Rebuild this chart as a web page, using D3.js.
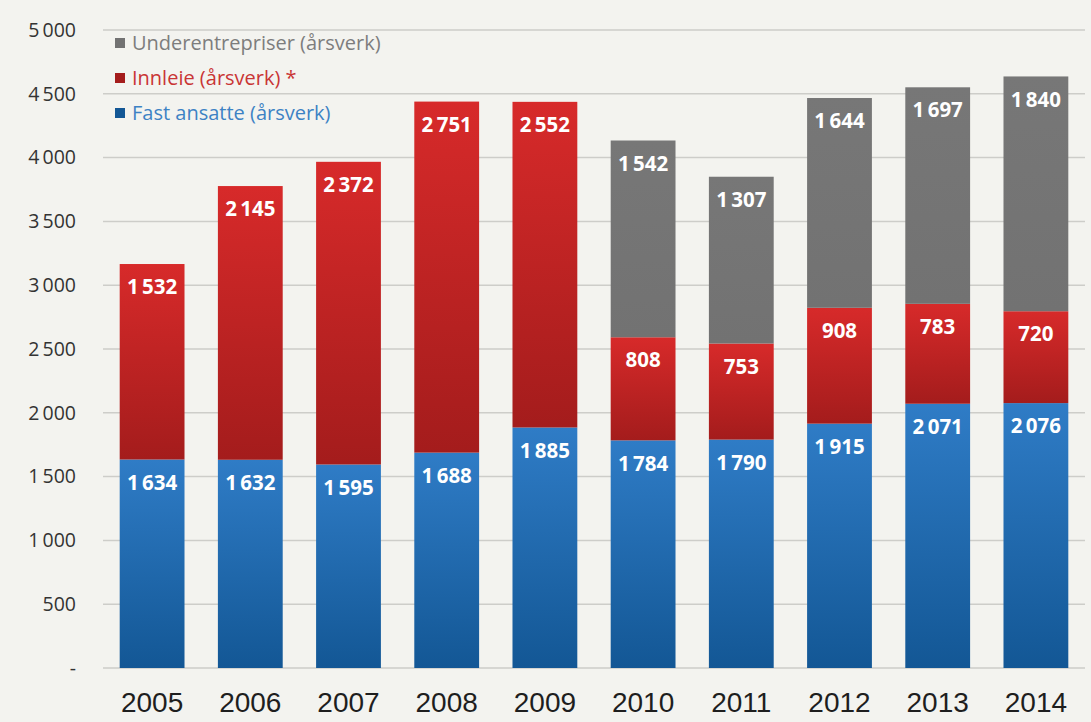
<!DOCTYPE html>
<html>
<head>
<meta charset="utf-8">
<script src="https://cdn.jsdelivr.net/npm/d3@7"></script>
<style>
  html, body { margin: 0; padding: 0; background: #f3f3ef; }
  svg { display: block; }
</style>
</head>
<body>
<div id="viz"></div>
<script>
// data
const years = ['2005', '2006', '2007', '2008', '2009', '2010', '2011', '2012', '2013', '2014'];
const fastAnsatte = [1634, 1632, 1595, 1688, 1885, 1784, 1790, 1915, 2071, 2076];
const innleie = [1532, 2145, 2372, 2751, 2552, 808, 753, 908, 783, 720];
const underentrepriser = [0, 0, 0, 0, 0, 1542, 1307, 1644, 1697, 1840];
const yTicks = [0, 500, 1000, 1500, 2000, 2500, 3000, 3500, 4000, 4500, 5000];
const seriesKeys = ['fast', 'innleie', 'under'];
const legendLabels = ['Underentrepriser (årsverk)', 'Innleie (årsverk) *', 'Fast ansatte (årsverk)'];
const legendKeys = ['under', 'innleie', 'fast'];

const width = 1091, height = 722;
const margin = { top: 30, right: 6, bottom: 54, left: 103 };

const colors = { // [top, bottom] of each gradient
  fast: ['#2f7cc6', '#135795'],
  innleie: ['#d72a2a', '#a41c1c'],
  under: ['#777777', '#727272']
};
const legendText = { under: '#7d7d7d', innleie: '#c93535', fast: '#3d82c4' };

const fmt = v => v === 0 ? '-' : d3.format(',')(v).replace(/,/g, '\u2009');

const table = years.map((y, i) => ({
  year: y, fast: fastAnsatte[i], innleie: innleie[i], under: underentrepriser[i]
}));

const x = d3.scaleBand()
  .domain(years)
  .range([margin.left, width - margin.right])
  .paddingInner(0.34)
  .paddingOuter(0.17);
const y = d3.scaleLinear()
  .domain([0, 5000])
  .range([height - margin.bottom, margin.top]);

const svg = d3.select('#viz').append('svg')
  .attr('width', width)
  .attr('height', height);

svg.append('rect').attr('width', width).attr('height', height).attr('fill', '#f3f3ef');

// gradients
const defs = svg.append('defs');
seriesKeys.forEach(k => {
  const g = defs.append('linearGradient')
    .attr('id', 'grad-' + k)
    .attr('x1', 0).attr('y1', 0).attr('x2', 0).attr('y2', 1);
  g.append('stop').attr('offset', '0%').attr('stop-color', colors[k][0]);
  g.append('stop').attr('offset', '100%').attr('stop-color', colors[k][1]);
});

// gridlines + y labels
svg.append('g')
  .selectAll('line')
  .data(yTicks)
  .enter().append('line')
    .attr('x1', margin.left)
    .attr('x2', width - margin.right)
    .attr('y1', d => y(d))
    .attr('y2', d => y(d))
    .attr('stroke', '#cdcdc9')
    .attr('stroke-width', 1.5);

svg.append('g')
  .selectAll('text')
  .data(yTicks)
  .enter().append('text')
    .attr('x', 76)
    .attr('y', d => y(d))
    .attr('dy', '0.35em')
    .attr('text-anchor', 'end')
    .attr('font-family', 'Open Sans, sans-serif')
    .attr('font-size', 19.5)
    .attr('fill', '#333')
    .text(fmt);

// stacked bars
const stacked = d3.stack().keys(seriesKeys)(table);

const layers = svg.append('g')
  .selectAll('g')
  .data(stacked)
  .enter().append('g')
    .attr('fill', d => `url(#grad-${d.key})`);

layers.selectAll('rect')
  .data(d => d.filter(s => s[1] - s[0] > 0))
  .enter().append('rect')
    .attr('x', d => x(d.data.year))
    .attr('width', x.bandwidth())
    .attr('y', d => y(d[1]))
    .attr('height', d => y(d[0]) - y(d[1]));

// value labels
layers.each(function(layer) {
  d3.select(this).selectAll('text')
    .data(layer.filter(s => s[1] - s[0] > 0))
    .enter().append('text')
      .attr('x', d => x(d.data.year) + x.bandwidth() / 2)
      .attr('y', d => y(d[1]) + 23)
      .attr('dy', '0.35em')
      .attr('text-anchor', 'middle')
      .attr('font-family', 'Open Sans, sans-serif')
      .attr('font-weight', 'bold')
      .attr('font-size', 20.5)
      .attr('fill', '#fff')
      .text(d => fmt(d[1] - d[0]));
});

// x labels
svg.append('g')
  .selectAll('text')
  .data(years)
  .enter().append('text')
    .attr('x', d => x(d) + x.bandwidth() / 2)
    .attr('y', 712)
    .attr('text-anchor', 'middle')
    .attr('font-family', 'Liberation Sans, Arial, sans-serif')
    .attr('font-size', 28)
    .attr('fill', '#1e1e1e')
    .text(d => d);

// legend
const legendY = [43, 78, 113];
const legend = svg.append('g')
  .selectAll('g')
  .data(legendKeys)
  .enter().append('g')
    .attr('transform', (d, i) => `translate(115,${legendY[i]})`);
legend.append('rect')
  .attr('x', 0).attr('y', -5)
  .attr('width', 10).attr('height', 10)
  .attr('fill', d => colors[d][1]);
legend.append('text')
  .attr('x', 17)
  .attr('dy', '0.35em')
  .attr('font-family', 'Open Sans, sans-serif')
  .attr('font-size', 20)
  .attr('fill', d => legendText[d])
  .text((d, i) => legendLabels[i]);
</script>
</body>
</html>
